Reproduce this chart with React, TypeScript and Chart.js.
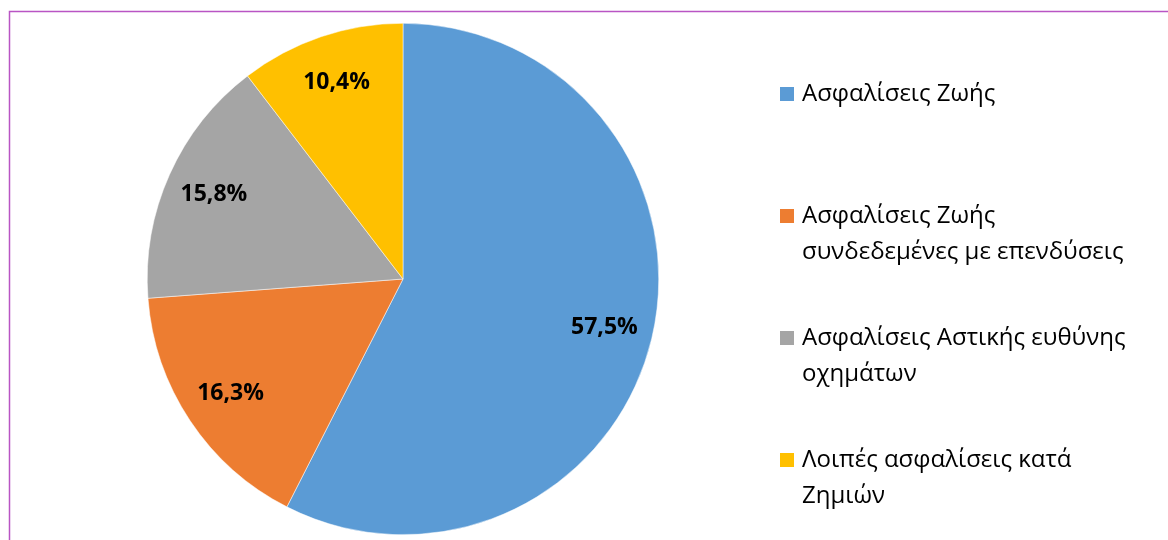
import React, { useEffect, useRef } from "react";
import { Chart, registerables } from "chart.js";

Chart.register(...registerables);

const categories: string[][] = [
  ["Ασφαλίσεις Ζωής"],
  ["Ασφαλίσεις Ζωής", "συνδεδεμένες με επενδύσεις"],
  ["Ασφαλίσεις Αστικής ευθύνης", "οχημάτων"],
  ["Λοιπές ασφαλίσεις κατά", "Ζημιών"],
];
const values: number[] = [57.5, 16.3, 15.8, 10.4];
const valueLabels: string[] = ["57,5%", "16,3%", "15,8%", "10,4%"];
const colors: string[] = ["#5B9BD5", "#ED7D31", "#A5A5A5", "#FFC000"];

const LEGEND_FONT = '24px "Open Sans"';
const LABEL_FONT = 'bold 23px "Open Sans"';

const framePlugin = {
  id: "frame",
  beforeDraw(chart: any) {
    const ctx = chart.ctx;
    ctx.save();
    ctx.fillStyle = "#ffffff";
    ctx.fillRect(0, 0, chart.width, chart.height);
    ctx.lineWidth = 1.5;
    ctx.strokeStyle = "#B955C4";
    ctx.beginPath();
    ctx.moveTo(9.5, chart.height);
    ctx.lineTo(9.5, 11.5);
    ctx.lineTo(chart.width, 11.5);
    ctx.stroke();
    ctx.restore();
  },
};

const labelsPlugin = {
  id: "sliceLabels",
  afterDatasetsDraw(chart: any) {
    const ctx = chart.ctx;
    const meta = chart.getDatasetMeta(0);
    ctx.save();
    ctx.font = LABEL_FONT;
    ctx.fillStyle = "#000000";
    ctx.textAlign = "center";
    ctx.textBaseline = "middle";
    meta.data.forEach((arc: any, i: number) => {
      const p = arc.getProps(["x", "y", "startAngle", "endAngle", "outerRadius"], true);
      const mid = (p.startAngle + p.endAngle) / 2;
      const r = p.outerRadius * 0.81;
      ctx.fillText(valueLabels[i], p.x + Math.cos(mid) * r, p.y + Math.sin(mid) * r);
    });
    ctx.restore();
  },
};

const legendPlugin = {
  id: "sideLegend",
  afterDraw(chart: any) {
    const ctx = chart.ctx;
    ctx.save();
    ctx.font = LEGEND_FONT;
    ctx.textAlign = "left";
    ctx.textBaseline = "alphabetic";
    const x0 = 780;
    const box = 14;
    const textX = 802;
    const firstBaseline = 101;
    const itemStep = 122;
    const lineStep = 36;
    categories.forEach((lines, i) => {
      const base = firstBaseline + i * itemStep;
      ctx.fillStyle = colors[i];
      ctx.fillRect(x0, base - box, box, box);
      ctx.fillStyle = "#000000";
      lines.forEach((ln, j) => ctx.fillText(ln, textX, base + j * lineStep));
    });
    ctx.restore();
  },
};

export default function App() {
  const canvasRef = useRef<HTMLCanvasElement | null>(null);

  useEffect(() => {
    document.body.style.margin = "0";
    const canvas = canvasRef.current;
    if (!canvas) return;
    const chart = new Chart(canvas, {
      type: "pie",
      data: {
        labels: categories.map((c) => c.join(" ")),
        datasets: [
          {
            data: values,
            backgroundColor: colors,
            borderColor: "#ffffff",
            borderWidth: 0.5,
          },
        ],
      },
      options: {
        responsive: false,
        animation: false,
        layout: { padding: { left: 147, right: 509, top: 23, bottom: 5 } },
        plugins: {
          legend: { display: false },
          tooltip: { enabled: false },
        },
      },
      plugins: [framePlugin, labelsPlugin, legendPlugin],
    });
    return () => chart.destroy();
  }, []);

  return (
    <div style={{ position: "absolute", left: 0, top: 0, width: 1168, height: 540 }}>
      <canvas ref={canvasRef} width={1168} height={540} />
    </div>
  );
}
